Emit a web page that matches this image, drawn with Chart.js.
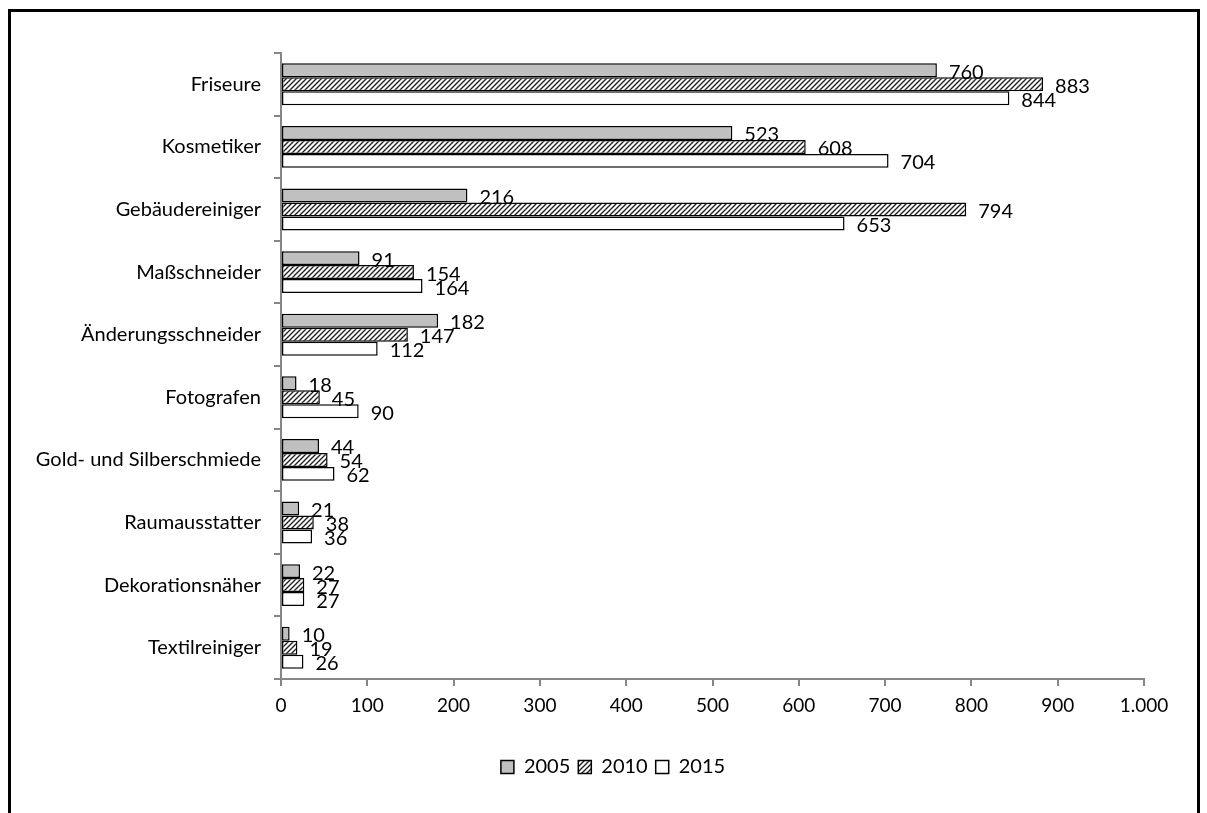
<!DOCTYPE html>
<html>
<head>
<meta charset="utf-8">
<script src="https://cdn.jsdelivr.net/npm/chart.js@4.4.1/dist/chart.umd.min.js"></script>
<style>
  html, body { margin: 0; padding: 0; background: #fff; }
  #frame {
    position: absolute; left: 8px; top: 9px; width: 1186px; height: 820px;
    border-top: 3px solid #000; border-left: 3px solid #000; border-right: 3px solid #000;
  }
  #wrap { position: absolute; left: 0; top: 0; width: 1207px; height: 813px; }
</style>
</head>
<body>
<div id="frame"></div>
<div id="wrap"><canvas id="chart" width="1207" height="813"></canvas></div>
<script>
var categories = ['Friseure', 'Kosmetiker', 'Gebäudereiniger', 'Maßschneider', 'Änderungsschneider',
    'Fotografen', 'Gold- und Silberschmiede', 'Raumausstatter', 'Dekorationsnäher', 'Textilreiniger'];
var values2005 = [760, 523, 216, 91, 182, 18, 44, 21, 22, 10];
var values2010 = [883, 608, 794, 154, 147, 45, 54, 38, 27, 19];
var values2015 = [844, 704, 653, 164, 112, 90, 62, 36, 27, 26];
var xTicks = [0, 100, 200, 300, 400, 500, 600, 700, 800, 900, 1000];

var FONT = 'Lato, sans-serif';

window.addEventListener('load', function() {
    init();
});

function init() {
    var hatch = makeHatch();
    var ctx = document.getElementById('chart').getContext('2d');

    // draws the value next to the end of each bar
    var valueLabels = {
        id: 'valueLabels',
        afterDatasetsDraw: function(chart) {
            var c = chart.ctx;
            c.save();
            c.font = '20px ' + FONT;
            c.fillStyle = '#000';
            c.textAlign = 'left';
            c.textBaseline = 'middle';
            chart.data.datasets.forEach(function(ds, i) {
                chart.getDatasetMeta(i).data.forEach(function(bar, j) {
                    c.fillText(String(ds.data[j]), bar.x + 12, bar.y + 2);
                });
            });
            c.restore();
        }
    };

    // legend in the reference sits a bit right of the canvas centre
    var legendShift = {
        id: 'legendShift',
        afterLayout: function(chart) {
            chart.legend.left = 82;
        }
    };

    new Chart(ctx, {
        type: 'bar',
        data: {
            labels: categories,
            datasets: [
                { label: '2005', data: values2005, backgroundColor: '#c0c0c0' },
                { label: '2010', data: values2010, backgroundColor: hatch },
                { label: '2015', data: values2015, backgroundColor: '#ffffff' }
            ]
        },
        options: {
            indexAxis: 'y',
            responsive: false,
            animation: false,
            datasets: {
                bar: {
                    borderColor: '#000',
                    borderWidth: 1.5,
                    borderSkipped: false,
                    barPercentage: 1,
                    categoryPercentage: 0.67
                }
            },
            layout: { padding: { top: 53, right: 63, bottom: 26, left: 0 } },
            plugins: {
                legend: {
                    position: 'bottom',
                    labels: {
                        boxWidth: 13, boxHeight: 13, padding: 8,
                        color: '#000',
                        font: { family: FONT, size: 20 }
                    }
                },
                tooltip: { enabled: false }
            },
            scales: {
                x: {
                    min: 0, max: 1000,
                    afterBuildTicks: function(axis) {
                        axis.ticks = xTicks.map(function(v) { return { value: v }; });
                    },
                    afterFit: function(axis) { axis.height = 70; },
                    grid: { drawOnChartArea: false, tickLength: 7, color: '#868686', lineWidth: 2 },
                    border: { color: '#868686', width: 2 },
                    ticks: {
                        color: '#000', padding: 8,
                        font: { family: FONT, size: 19 },
                        callback: function(v) { return v === 1000 ? '1.000' : String(v); }
                    }
                },
                y: {
                    afterFit: function(axis) { axis.width = 281; },
                    grid: { drawOnChartArea: false, tickLength: 7, color: '#868686', lineWidth: 2, offset: true },
                    border: { color: '#868686', width: 2 },
                    ticks: {
                        color: '#000', padding: 13,
                        font: { family: FONT, size: 20 }
                    }
                }
            }
        },
        plugins: [valueLabels, legendShift]
    });
}

function makeHatch() {
    var p = document.createElement('canvas');
    p.width = 5; p.height = 5;
    var g = p.getContext('2d');
    g.fillStyle = '#fff';
    g.fillRect(0, 0, 5, 5);
    g.strokeStyle = '#222';
    g.lineWidth = 1.4;
    g.beginPath();
    g.moveTo(-1, 6); g.lineTo(6, -1);
    g.moveTo(-1, 1); g.lineTo(1, -1);
    g.moveTo(4, 6); g.lineTo(6, 4);
    g.stroke();
    return document.getElementById('chart').getContext('2d').createPattern(p, 'repeat');
}
</script>
</body>
</html>
